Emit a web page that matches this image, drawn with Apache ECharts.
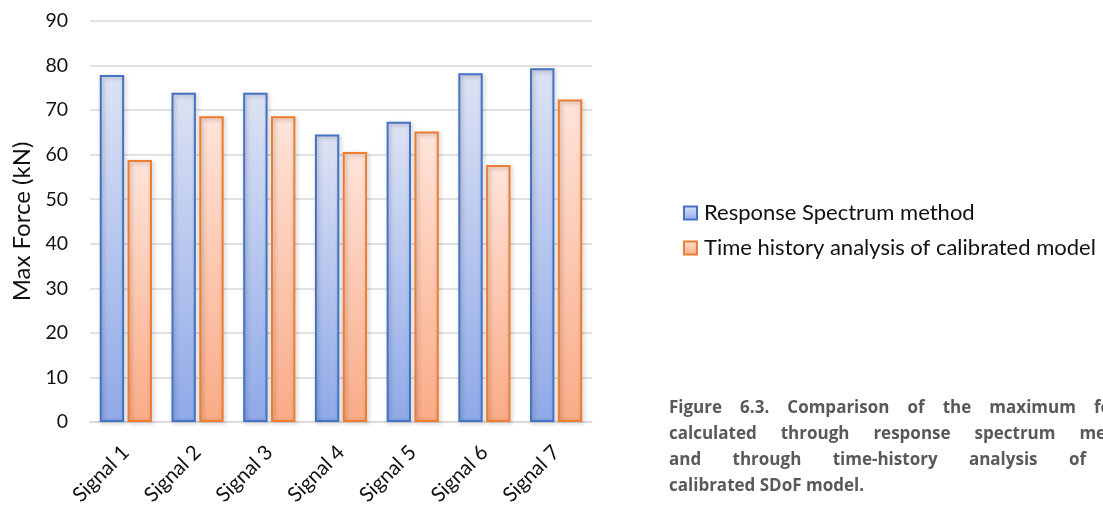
<!DOCTYPE html>
<html>
<head>
<meta charset="utf-8">
<script src="https://cdn.jsdelivr.net/npm/echarts@6/dist/echarts.min.js"></script>
<style>
  html, body { margin: 0; padding: 0; background: #fff; }
  #chart { width: 1103px; height: 509px; }
</style>
</head>
<body>
<div id="chart"></div>
<script>
// Signals and peak forces (kN)
const categories = ['Signal 1', 'Signal 2', 'Signal 3', 'Signal 4', 'Signal 5', 'Signal 6', 'Signal 7'];
const responseSpectrum = [77.9, 73.9, 73.9, 64.5, 67.4, 78.3, 79.4];
const timeHistory = [58.8, 68.6, 68.6, 60.6, 65.2, 57.7, 72.4];
const seriesNames = ['Response Spectrum method', 'Time history analysis of calibrated model'];
const yTicks = { min: 0, max: 90, interval: 10 };

// Caption lines, justified across a fixed width
const captionLines = [
  ['Figure', '6.3.', 'Comparison', 'of', 'the', 'maximum', 'forces'],
  ['calculated', 'through', 'response', 'spectrum', 'method'],
  ['and', 'through', 'time-history', 'analysis', 'of', 'the'],
  ['calibrated', 'SDoF', 'model.']
];

const FONT = 'Lato, "Open Sans", sans-serif';
const CAPTION_FONT = 'bold 17px "Open Sans", sans-serif';

function gradient(top, bottom) {
  return new echarts.graphic.LinearGradient(0, 0, 0, 1, [
    { offset: 0, color: top },
    { offset: 1, color: bottom }
  ]);
}

function barSeries(name, data, top, bottom, border) {
  return {
    name: name,
    type: 'bar',
    data: data,
    barWidth: '34%',
    barGap: '14%',
    itemStyle: {
      color: gradient(top, bottom),
      borderColor: border,
      borderWidth: 2,
      shadowColor: 'rgba(0,0,0,0.28)',
      shadowBlur: 4,
      shadowOffsetX: 1.5,
      shadowOffsetY: 1.5
    },
    emphasis: { disabled: true }
  };
}

function buildCaption() {
  // justified lines; the last line keeps normal word spacing
  const ctx = document.createElement('canvas').getContext('2d');
  ctx.font = CAPTION_FONT;
  const capLeft = 669, capRight = 1146, capTop = 400, capLineH = 26;
  const out = [];
  captionLines.forEach(function (words, li) {
    const widths = words.map(w => ctx.measureText(w).width);
    const total = widths.reduce((a, b) => a + b, 0);
    const isLast = li === captionLines.length - 1;
    const gap = isLast ? ctx.measureText(' ').width : (capRight - capLeft - total) / (words.length - 1);
    let x = capLeft;
    words.forEach(function (w, wi) {
      out.push({
        type: 'text',
        left: x,
        top: capTop + li * capLineH,
        style: { text: w, font: CAPTION_FONT, fill: '#595959' },
        silent: true
      });
      x += widths[wi] + gap;
    });
  });
  return out;
}

const chart = echarts.init(document.getElementById('chart'), null, { renderer: 'canvas' });

function render() {
  chart.setOption({
    animation: false,
    backgroundColor: '#ffffff',
    grid: { left: 90, right: 511, top: 21, bottom: 87, containLabel: false },
    legend: {
      orient: 'vertical',
      left: 678,
      top: 197,
      itemWidth: 13,
      itemHeight: 13,
      itemGap: 13,
      icon: 'rect',
      textStyle: { fontFamily: FONT, fontSize: 22, color: '#111', padding: [0, 0, 0, 2] },
      data: seriesNames
    },
    xAxis: {
      type: 'category',
      data: categories,
      axisLine: { show: true, lineStyle: { color: '#d9d9d9', width: 1.5 } },
      axisTick: { show: false },
      axisLabel: {
        rotate: 45,
        margin: 27,
        fontFamily: FONT,
        fontSize: 20.5,
        color: '#111',
        interval: 0
      }
    },
    yAxis: {
      type: 'value',
      min: yTicks.min,
      max: yTicks.max,
      interval: yTicks.interval,
      name: 'Max Force (kN)',
      nameLocation: 'middle',
      nameGap: 56,
      nameTextStyle: { fontFamily: FONT, fontSize: 24, color: '#111' },
      axisLine: { show: false },
      axisTick: { show: false },
      axisLabel: { fontFamily: FONT, fontSize: 19.5, color: '#111', margin: 22 },
      splitLine: { lineStyle: { color: '#d9d9d9', width: 1.5 } }
    },
    series: [
      barSeries(seriesNames[0], responseSpectrum, '#dde3f4', '#8fa9e8', '#4472c4'),
      barSeries(seriesNames[1], timeHistory, '#fee4da', '#faab86', '#ed7d31')
    ],
    graphic: buildCaption()
  });
}

render();
if (document.fonts && document.fonts.ready) {
  document.fonts.ready.then(render);
}
</script>
</body>
</html>
